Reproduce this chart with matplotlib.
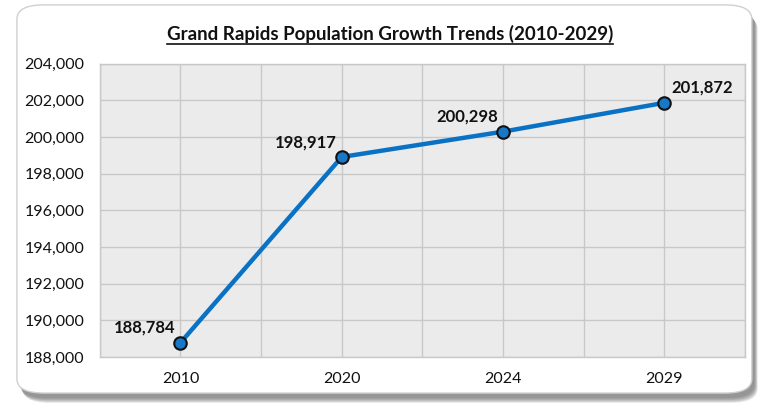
import matplotlib
matplotlib.use("Agg")
from matplotlib import pyplot as plt
from matplotlib.patches import FancyBboxPatch
from matplotlib.lines import Line2D
from matplotlib.ticker import FuncFormatter, MultipleLocator

years = ["2010", "2020", "2024", "2029"]
population = [188784, 198917, 200298, 201872]
label_offsets = [(-26, 5), (-26, 5), (-26, 5), (27, 5)]

plt.rcParams['font.family'] = ['Lato', 'DejaVu Sans']

fig = plt.figure(figsize=(7.68, 4.09), dpi=100)
fig.patch.set_facecolor("white")

# rounded frame with a soft shadow (bottom-right)
fx, fy, fw, fh = 0.022, 0.039, 0.957, 0.949
for i in range(8):
    t = i / 7.0
    dx = 0.0075 - 0.004 * t
    dy = 0.024 - 0.012 * t
    fig.patches.append(FancyBboxPatch((fx + dx, fy - dy), fw, fh,
                                      boxstyle="round,pad=0,rounding_size=0.035",
                                      transform=fig.transFigure, facecolor="#606060",
                                      edgecolor="none", alpha=0.12, zorder=0))
fig.patches.append(FancyBboxPatch((fx, fy), fw, fh,
                                  boxstyle="round,pad=0,rounding_size=0.035",
                                  transform=fig.transFigure, facecolor="white",
                                  edgecolor="#d0d0d0", linewidth=1.0, zorder=1))

ax = fig.add_axes([0.130, 0.127, 0.840, 0.717])
ax.set_zorder(2)
ax.set_facecolor("#ebebeb")

x = list(range(len(years)))
ax.plot(x, population, color="#0a72c4", linewidth=3.2, marker="o", markersize=9,
        markerfacecolor="#1878c8", markeredgecolor="#111111", markeredgewidth=1.5, zorder=3)

for xi, v, off in zip(x, population, label_offsets):
    ax.annotate(f"{v:,}", (xi, v), xytext=off, textcoords="offset points",
                ha="center", va="bottom", fontsize=12, fontweight="bold", color="#111111")

ax.set_xlim(-0.5, len(years) - 0.5)
ax.set_ylim(188000, 204000)
ax.set_xticks(x)
ax.set_xticklabels(years)
ax.xaxis.set_minor_locator(MultipleLocator(0.5))
ax.yaxis.set_major_locator(MultipleLocator(2000))
ax.yaxis.set_major_formatter(FuncFormatter(lambda v, p: f"{int(v):,}"))
ax.grid(True, which="both", axis="x", color="#c8c8c8", linewidth=1.0)
ax.grid(True, which="major", axis="y", color="#c8c8c8", linewidth=1.0)
ax.set_axisbelow(True)
ax.tick_params(axis="both", which="both", length=0, labelsize=11.5, colors="#111111")
ax.tick_params(axis="x", pad=11)
ax.tick_params(axis="y", pad=11)
for s in ax.spines.values():
    s.set_color("#c8c8c8")
    s.set_linewidth(1.0)

title = fig.text(0.508, 0.918, "Grand Rapids Population Growth Trends (2010-2029)",
                 ha="center", va="center", fontsize=13.5, fontweight="bold", color="#111111")
fig.canvas.draw()
bb = title.get_window_extent().transformed(fig.transFigure.inverted())
fig.lines.append(Line2D([bb.x0, bb.x1], [bb.y0 - 0.004, bb.y0 - 0.004],
                        transform=fig.transFigure, color="#111111", linewidth=1.2))

fig.savefig("out.png", dpi=100)
